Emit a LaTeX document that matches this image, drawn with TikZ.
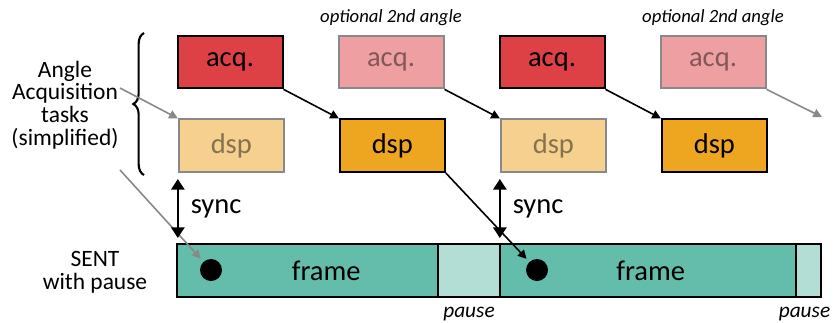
\documentclass[tikz,border=0pt]{standalone}
\usepackage{fontspec}
\setmainfont{Carlito}
\usetikzlibrary{positioning,arrows.meta,decorations.pathreplacing}

\definecolor{acqred}{HTML}{DD4045}
\definecolor{acqpale}{HTML}{EE9FA1}
\definecolor{dsporange}{HTML}{EEA520}
\definecolor{dsppale}{HTML}{F6D08E}
\definecolor{frameteal}{HTML}{63BDAA}
\definecolor{pauseteal}{HTML}{B3DED6}
\definecolor{hintgray}{HTML}{898989}

\tikzset{
  task/.style={draw,line width=1.5pt,minimum width=78.75pt,minimum height=39.5pt,
    inner sep=0pt,font=\fontsize{21.4}{24}\selectfont},
  acq/.style={task,fill=acqred},
  acqopt/.style={task,draw=hintgray,fill=acqpale,text=black!45!acqpale},
  dsp/.style={task,fill=dsporange},
  dspopt/.style={task,draw=hintgray,fill=dsppale,text=black!45!dsppale},
  seg/.style={draw,line width=1.5pt,minimum height=39.75pt,inner sep=0pt,outer sep=0pt},
  big/.style={font=\fontsize{21.4}{24}\selectfont,inner sep=0pt},
  side/.style={font=\fontsize{17.6}{17}\selectfont,align=center,inner sep=0pt},
  note/.style={font=\fontsize{14}{16}\selectfont\itshape,inner sep=0pt},
  pausenote/.style={font=\fontsize{16}{18}\selectfont\itshape,inner sep=0pt},
  dot/.style={circle,fill=black,minimum size=16.5pt,inner sep=0pt},
  flow/.style={line width=1.2pt,-{Triangle[width=6.5pt,length=6.5pt]}},
  hint/.style={hintgray,line width=1.2pt,-{Triangle[width=6.5pt,length=6.5pt]}},
  syncarrow/.style={line width=1.5pt,{Triangle[width=10pt,length=8pt]}-{Triangle[width=10pt,length=8pt]}}
}

\begin{document}
\begin{tikzpicture}[x=0.75pt,y=-0.75pt]
      \useasboundingbox (0,0) rectangle (834,322);

      \node[acq](acq1) at (230,62){acq.};
      \node[acqopt,right=40.5pt of acq1](acq2){acq.};
      \node[acq,right=40.5pt of acq2](acq3){acq.};
      \node[acqopt,right=40.5pt of acq3](acq4){acq.};

      \node[dspopt,below=21.75pt of acq1,xshift=1pt](dsp1){dsp};
      \node[dsp,right=40.5pt of dsp1](dsp2){dsp};
      \node[dspopt,right=40.5pt of dsp2](dsp3){dsp};
      \node[dsp,right=40.5pt of dsp3](dsp4){dsp};

      \node[note,above=6.5pt of acq2](opt1){optional 2nd angle};
      \node[note,above=6.5pt of acq4](opt2){optional 2nd angle};

      \node[seg,fill=frameteal,minimum width=195.75pt,anchor=north west](frame1) at (177,244){};
      \node[seg,fill=pauseteal,minimum width=46.5pt,right=0pt of frame1](pause1){};
      \node[seg,fill=frameteal,minimum width=222pt,right=0pt of pause1](frame2){};
      \node[seg,fill=pauseteal,minimum width=18.75pt,right=0pt of frame2](pause2){};

      \node[big] at ([xshift=14pt]frame1.center){frame};
      \node[big] at ([xshift=2pt]frame2.center){frame};
      \node[pausenote,below=7.5pt of pause1](ptxt1){pause};
      \node[pausenote,below=7.5pt of pause2,xshift=-3pt](ptxt2){pause};

      \node[dot](dot1) at (211,270){};
      \node[dot](dot2) at (537,270){};

      \node[side](tasks) at (65,105){Angle\\Acquisition\\tasks\\(simplified)};
      \node[side](sent) at (95,272){SENT\\with pause};
      \coordinate (tasksend) at (120,88);
      \coordinate (tasksfoot) at (120,170);
      \coordinate (next) at (822,117);

      \draw[line width=1.6pt,decorate,decoration={brace,amplitude=8pt}] (144,175) -- (144,33);

      \draw[flow] (acq1.south east) -- (dsp2.north west);
      \draw[flow] (acq2.south east) -- (dsp3.north west);
      \draw[flow] (acq3.south east) -- (dsp4.north west);
      \draw[hint] (acq4.south east) -- (next);
      \draw[flow,shorten >=3pt] (dsp2.south east) -- (dot2);

      \draw[hint] (tasksend) -- (dsp1.north west);
      \draw[hint,shorten >=3pt] (tasksfoot) -- (dot1);

      \draw[syncarrow] ([yshift=-4.5pt]dsp1.south west) -- ([yshift=4.5pt]dsp1.south west |- frame1.north)
        node[big,midway,right=9pt]{sync};
      \draw[syncarrow] ([yshift=-4.5pt]dsp3.south west) -- ([yshift=4.5pt]dsp3.south west |- frame2.north)
        node[big,midway,right=9pt]{sync};

    \end{tikzpicture}
\end{document}
